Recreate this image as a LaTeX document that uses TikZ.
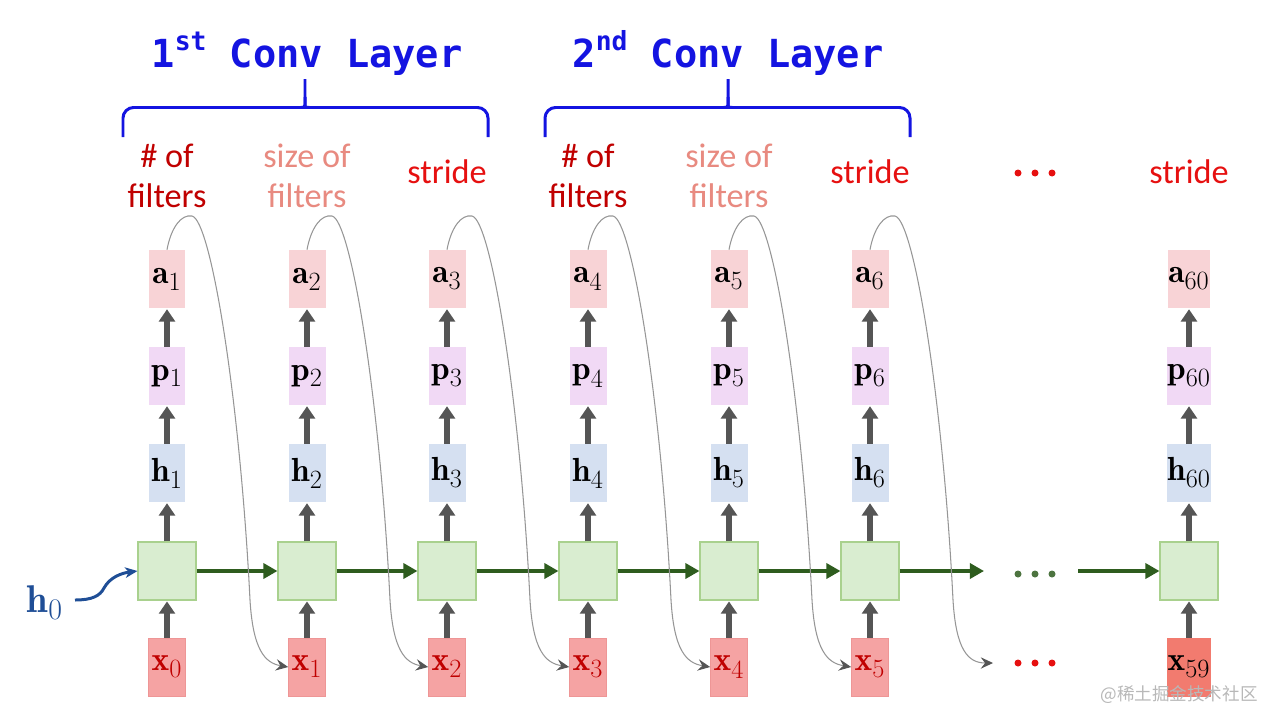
\documentclass[tikz,border=0pt]{standalone}
\usepackage{fontspec}
\newfontfamily\labfont{Carlito}
\newfontfamily\monofont{DejaVu Sans Mono}
\newfontfamily\cjkfont{Noto Sans CJK SC}
\usetikzlibrary{arrows.meta}
\definecolor{titleblue}{RGB}{20,20,225}
\definecolor{darkred}{RGB}{192,0,0}
\definecolor{salmon}{RGB}{232,138,128}
\definecolor{brightred}{RGB}{230,16,16}
\definecolor{afill}{RGB}{248,211,214}
\definecolor{pfill}{RGB}{241,217,245}
\definecolor{hfill}{RGB}{213,224,241}
\definecolor{cfill}{RGB}{217,237,208}
\definecolor{cdraw}{RGB}{169,209,142}
\definecolor{xfill}{RGB}{245,163,163}
\definecolor{xdraw}{RGB}{238,150,150}
\definecolor{xlast}{RGB}{242,123,111}
\definecolor{arrgray}{RGB}{85,85,85}
\definecolor{arrgreen}{RGB}{46,92,30}
\definecolor{hblue}{RGB}{31,78,150}
\definecolor{curvegray}{RGB}{150,150,150}
\newcommand{\vlab}[2]{$\mathbf{#1}_{\mbox{\fontsize{15}{15}\selectfont #2}}$}
\begin{document}
\begin{tikzpicture}[x=0.02cm,y=-0.02cm,
  vbox/.style={minimum width=0.74cm,minimum height=1.16cm,inner sep=0pt,
    font=\fontsize{19}{22}\selectfont},
  abox/.style={vbox,fill=afill},
  pbox/.style={vbox,fill=pfill},
  hbox/.style={vbox,fill=hfill},
  xbox/.style={vbox,fill=xfill,draw=xdraw,line width=0.4pt,text=darkred},
  cell/.style={minimum width=1.16cm,minimum height=1.16cm,inner sep=0pt,fill=cfill,draw=cdraw,line width=0.6pt},
  garrow/.style={draw=arrgray,line width=3.2pt,-{Triangle[length=7pt,width=9pt]},shorten >=0.5pt},
  grarrow/.style={draw=arrgreen,line width=2.8pt,-{Triangle[length=8pt,width=8.5pt]}},
  thincurve/.style={draw=curvegray,line width=0.6pt,arrows={-{Stealth[color=arrgray,length=7pt,width=6.5pt,inset=2.5pt]}}},
  labtext/.style={font=\labfont\fontsize{19.5}{22}\selectfont,anchor=base},
  titletext/.style={font=\monofont\bfseries\fontsize{22}{26}\selectfont,text=titleblue,anchor=base},
  brace/.style={draw=titleblue,line width=1.7pt,rounded corners=6pt},
  dot/.style={circle,inner sep=0pt,minimum size=0.14cm}
]
\useasboundingbox (0,0) rectangle (1280,727);

% titles
\node[titletext] (t1) at (307,67) {1\raisebox{0.42em}{\fontsize{15}{15}\selectfont st} Conv Layer};
\node[titletext] (t2) at (728,67) {2\raisebox{0.42em}{\fontsize{15}{15}\selectfont nd} Conv Layer};

% braces
\draw[brace] (123,137) |- (299,107.5) .. controls (303,107.5) and (305,104) .. (305,97) -- (305,79);
\draw[brace] (305,97) .. controls (305,104) and (307,107.5) .. (311,107.5) -| (488,137);
\draw[brace] (545,137) |- (722,107.5) .. controls (726,107.5) and (728,104) .. (728,97) -- (728,79);
\draw[brace] (728,97) .. controls (728,104) and (730,107.5) .. (734,107.5) -| (910,137);

% top labels
\node[labtext,text=darkred] (l1a) at (167,167) {\# of};
\node[labtext,text=darkred] (l1b) at (167,207) {filters};
\node[labtext,text=salmon] (l2a) at (307,167) {size of};
\node[labtext,text=salmon] (l2b) at (307,207) {filters};
\node[labtext,text=brightred] (l3) at (447,183) {stride};
\node[labtext,text=darkred] (l4a) at (588,167) {\# of};
\node[labtext,text=darkred] (l4b) at (588,207) {filters};
\node[labtext,text=salmon] (l5a) at (729,167) {size of};
\node[labtext,text=salmon] (l5b) at (729,207) {filters};
\node[labtext,text=brightred] (l6) at (870,183) {stride};
\node[labtext,text=brightred] (l7) at (1189,183) {stride};
\node[dot,fill=brightred] (rd1) at (1018,173) {};
\node[dot,fill=brightred] (rd2) at (1035,173) {};
\node[dot,fill=brightred] (rd3) at (1052,173) {};

% columns
\foreach \i/\cx in {1/167,2/307,3/447,4/588,5/729,6/870}{
  \pgfmathtruncatemacro\j{\i-1}
  \node[abox] (a\i) at (\cx,279) {\vlab{a}{\i}};
  \node[pbox] (p\i) at (\cx,376) {\vlab{p}{\i}};
  \node[hbox] (h\i) at (\cx,473) {\vlab{h}{\i}};
  \node[cell] (c\i) at (\cx,571) {};
  \node[xbox] (x\i) at (\cx,667) {\vlab{x}{\j}};
  \draw[garrow] (p\i) -- (a\i);
  \draw[garrow] (h\i) -- (p\i);
  \draw[garrow] (c\i) -- (h\i);
  \draw[garrow] (x\i) -- (c\i);
}
% last column
\node[abox,minimum width=0.82cm] (aL) at (1189,279) {\vlab{a}{60}};
\node[pbox,minimum width=0.82cm] (pL) at (1189,376) {\vlab{p}{60}};
\node[hbox,minimum width=0.82cm] (hL) at (1189,473) {\vlab{h}{60}};
\node[cell] (cL) at (1189,571) {};
\node[xbox,minimum width=0.82cm,fill=xlast,draw=xlast,text=black] (xL) at (1189,667) {\vlab{x}{59}};
\draw[garrow] (pL) -- (aL);
\draw[garrow] (hL) -- (pL);
\draw[garrow] (cL) -- (hL);
\draw[garrow] (xL) -- (cL);

% recurrent arrows
\foreach \i [evaluate=\i as \k using int(\i+1)] in {1,...,5}{
  \draw[grarrow] (c\i) -- (c\k);
}
\coordinate (g1) at (984,571);
\coordinate (g2) at (1078,571);
\draw[grarrow] (c6) -- (g1);
\draw[grarrow] (g2) -- (cL);
\node[dot,fill=arrgreen!85] (gd1) at (1018,574) {};
\node[dot,fill=arrgreen!85] (gd2) at (1035,574) {};
\node[dot,fill=arrgreen!85] (gd3) at (1052,574) {};
\node[dot,fill=brightred] (bd1) at (1018,663) {};
\node[dot,fill=brightred] (bd2) at (1035,663) {};
\node[dot,fill=brightred] (bd3) at (1052,663) {};

% h0
\node[font=\fontsize{22}{24}\selectfont,text=hblue] (h0) at (45,603) {$\mathbf{h}_{\mbox{\fontsize{17}{17}\selectfont 0}}$};
\coordinate (hs) at (75,600);
\draw[draw=hblue,line width=1.7pt,-{Stealth[length=7pt,width=6pt,inset=2pt]}]
  (hs) .. controls (92,600) and (100,596) .. (104,588) .. controls (110,577) and (122,573) .. (c1.west);

% thin curves
\coordinate (e6) at (993,663);
\foreach \i/\cx in {1/167,2/307,3/447,4/588,5/729,6/870}{
  \pgfmathtruncatemacro\k{\i+1}
  \ifnum\i<6
    \draw[thincurve] (a\i.north) .. controls ({\cx+4},228) and ({\cx+14},214) .. ({\cx+25},216)
      .. controls ({\cx+44},220) and ({\cx+73},400) .. ({\cx+83},600)
      .. controls ({\cx+86},650) and ({\cx+98},663) .. (x\k.west);
  \else
    \draw[thincurve] (a\i.north) .. controls ({\cx+4},228) and ({\cx+14},214) .. ({\cx+25},216)
      .. controls ({\cx+44},220) and ({\cx+73},400) .. ({\cx+83},600)
      .. controls ({\cx+86},650) and ({\cx+98},663) .. (e6);
  \fi
}

% watermark
\node[font=\cjkfont\fontsize{10}{12}\selectfont,text=black!28] (wm) at (1179,695) {@稀土掘金技术社区};
\end{tikzpicture}
\end{document}
